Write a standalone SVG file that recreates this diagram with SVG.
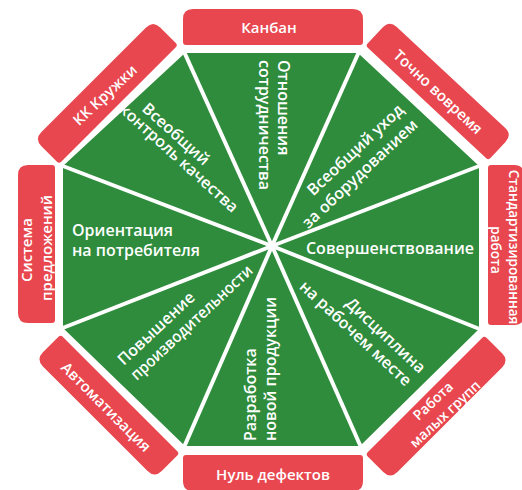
<svg xmlns="http://www.w3.org/2000/svg" width="522" height="490" viewBox="0 0 522 490">
<style>
.tab{fill:#e8474f}
.tt{font-family:"Open Sans","Noto Sans","DejaVu Sans",sans-serif;font-weight:600;font-size:15px;fill:#ffffff;text-anchor:middle}
.gt{font-family:"Open Sans","Noto Sans","DejaVu Sans",sans-serif;font-weight:600;font-size:16px;fill:#ffffff}
.ln{stroke:#ffffff;stroke-width:4;fill:none}
</style>
<defs>
<path id="dtab" class="tab" d="M-84,-3 V-25 Q-84,-35 -74,-35 H74 Q84,-35 84,-25 V-3 Q84,0 81,0 H-81 Q-84,0 -84,-3Z"/>
</defs>
<rect width="522" height="490" fill="#ffffff"/>
<g id="octagon">
<polygon points="185,53 358,53 479,166 479,329 360,446 185,446 63,328 63,166" fill="#2e8c3c"/>
</g>
<g id="connectors">
<line class="ln" x1="272" y1="246" x2="181" y2="45"/>
<line class="ln" x1="272" y1="246" x2="362" y2="45"/>
<line class="ln" x1="272" y1="246" x2="487" y2="163"/>
<line class="ln" x1="272" y1="246" x2="487" y2="332"/>
<line class="ln" x1="272" y1="246" x2="364" y2="454"/>
<line class="ln" x1="272" y1="246" x2="181" y2="454"/>
<line class="ln" x1="272" y1="246" x2="55" y2="331"/>
<line class="ln" x1="272" y1="246" x2="55" y2="163"/>
</g>
<g id="tab-kanban">
<path class="tab" transform="translate(273,45)" d="M-90,-3 V-26 Q-90,-36 -80,-36 H80 Q90,-36 90,-26 V-3 Q90,0 87,0 H-87 Q-90,0 -90,-3Z"/>
<text class="tt" transform="translate(269,28)" dy="0.35em">Канбан</text>
</g>
<g id="tab-jit">
<use href="#dtab" transform="translate(427,103) rotate(43)"/>
<text class="tt" transform="translate(438,92) rotate(43)" dy="0.35em">Точно вовремя</text>
</g>
<g id="tab-standard">
<path class="tab" transform="translate(488,245) rotate(90)" d="M-80,-3 V-26 Q-80,-36 -70,-36 H70 Q80,-36 80,-26 V-3 Q80,0 77,0 H-77 Q-80,0 -80,-3Z"/>
<text class="tt" style="font-size:13.5px" transform="translate(514,247) rotate(90)" dy="0.35em">Стандартизированная</text>
<text class="tt" style="font-size:13.5px" transform="translate(496,250) rotate(90)" dy="0.35em">работа</text>
</g>
<g id="tab-groups">
<use href="#dtab" transform="translate(425,395) rotate(135)"/>
<text class="tt" style="font-size:14px" transform="translate(433,401) rotate(-43)" dy="0.35em">Работа</text>
<text class="tt" style="font-size:14px" transform="translate(445,414) rotate(-43)" dy="0.35em">малых групп</text>
</g>
<g id="tab-zero">
<path class="tab" transform="translate(273,455) rotate(180)" d="M-90,-3 V-26 Q-90,-36 -80,-36 H80 Q90,-36 90,-26 V-3 Q90,0 87,0 H-87 Q-90,0 -90,-3Z"/>
<text class="tt" transform="translate(273,475)" dy="0.35em">Нуль дефектов</text>
</g>
<g id="tab-auto">
<use href="#dtab" transform="translate(120,394) rotate(225)"/>
<text class="tt" transform="translate(106,407) rotate(45)" dy="0.35em">Автоматизация</text>
</g>
<g id="tab-suggest">
<path class="tab" transform="translate(55,244) rotate(-90)" d="M-79,-3 V-27 Q-79,-37 -69,-37 H69 Q79,-37 79,-27 V-3 Q79,0 76,0 H-76 Q-79,0 -79,-3Z"/>
<text class="tt" transform="translate(27,250) rotate(-90)" dy="0.35em">Система</text>
<text class="tt" transform="translate(47,248) rotate(-90)" dy="0.35em">предложений</text>
</g>
<g id="tab-qc">
<use href="#dtab" transform="translate(118.5,104.5) rotate(-45)"/>
<text class="tt" transform="translate(105,95) rotate(-43)" dy="0.35em">КК Кружки</text>
</g>
<g id="sector-relations">
<text class="gt" transform="translate(284,60) rotate(90)" dy="0.35em">Отношения</text>
<text class="gt" transform="translate(265,60) rotate(90)" dy="0.35em">сотрудничества</text>
</g>
<g id="sector-tpm">
<text class="gt" text-anchor="end" transform="translate(401,107) rotate(-43)" dy="0.35em">Всеобщий уход</text>
<text class="gt" text-anchor="end" transform="translate(415,122) rotate(-43)" dy="0.35em">за оборудованием</text>
</g>
<g id="sector-improve">
<text class="gt" text-anchor="end" x="474" y="254">Совершенствование</text>
</g>
<g id="sector-discipline">
<text class="gt" text-anchor="end" transform="translate(423,370) rotate(43)" dy="0.35em">Дисциплина</text>
<text class="gt" text-anchor="end" transform="translate(409,383) rotate(43)" dy="0.35em">на рабочем месте</text>
</g>
<g id="sector-product">
<text class="gt" transform="translate(250,441) rotate(-90)" dy="0.35em">Разработка</text>
<text class="gt" transform="translate(270,441) rotate(-90)" dy="0.35em">новой продукции</text>
</g>
<g id="sector-productivity">
<text class="gt" transform="translate(120,362) rotate(-43)" dy="0.35em">Повышение</text>
<text class="gt" transform="translate(133,377) rotate(-43)" dy="0.35em" textLength="160" lengthAdjust="spacingAndGlyphs">производительности</text>
</g>
<g id="sector-customer">
<text class="gt" x="72" y="236">Ориентация</text>
<text class="gt" x="72" y="256">на потребителя</text>
</g>
<g id="sector-tqc">
<text class="gt" text-anchor="middle" transform="translate(176,134) rotate(42)" dy="0.35em">Всеобщий</text>
<text class="gt" text-anchor="middle" transform="translate(179,158) rotate(42)" dy="0.35em">контроль качества</text>
</g>
</svg>
